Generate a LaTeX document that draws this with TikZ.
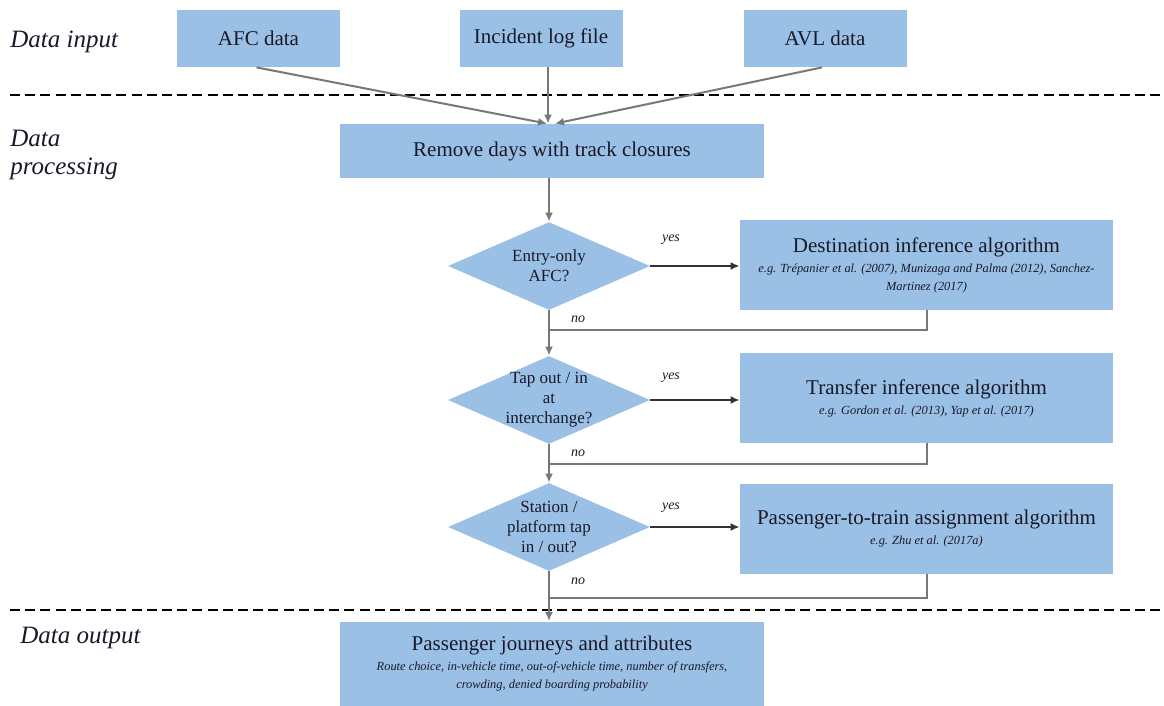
\documentclass[tikz,border=0pt]{standalone}
\usepackage{fontspec}
\setmainfont{Liberation Serif}
\usetikzlibrary{shapes.geometric,arrows.meta,calc}
\definecolor{boxblue}{RGB}{155,192,230}
\definecolor{txt}{RGB}{25,25,40}
\definecolor{greyline}{RGB}{120,120,120}
\definecolor{darkline}{RGB}{50,50,50}
\tikzset{
  box/.style={fill=boxblue, draw=none, inner sep=0pt, align=center, text=txt, font=\fontsize{10.5}{12}\selectfont},
  dia/.style={shape=diamond, fill=boxblue, draw=none, inner sep=0pt, minimum width=101pt, minimum height=44pt},
  dtext/.style={align=center, text=txt, font=\fontsize{8.5}{10}\selectfont, inner sep=0pt},
  sect/.style={anchor=west, text=txt, font=\fontsize{12.5}{15}\selectfont\itshape, align=left, inner sep=0pt},
  lab/.style={text=txt, font=\fontsize{7}{8}\selectfont\itshape, inner sep=0pt},
  garrow/.style={draw=greyline, line width=1pt, -{Latex[length=4.5pt,width=4pt]}},
  gline/.style={draw=greyline, line width=1pt},
  yarrow/.style={draw=darkline, line width=1.1pt, -{Latex[length=4.5pt,width=4pt]}},
  sep/.style={draw=black, line width=1.3pt, dash pattern=on 5pt off 2.6pt},
}
\newcommand{\refsize}{\fontsize{6.2}{7.5}\selectfont\itshape}
\begin{document}
\begin{tikzpicture}[x=0.5pt,y=-0.5pt]
\useasboundingbox (0,0) rectangle (1164,706);
% section labels
\node[sect] (lin) at (10,42) {Data input};
\node[sect] (lproc) at (10,155) {Data\\[-1pt]processing};
\node[sect] (lout) at (20,638) {Data output};
% separators
\coordinate (s1a) at (10,95); \coordinate (s1b) at (1164,95);
\coordinate (s2a) at (10,610); \coordinate (s2b) at (1164,610);
\draw[sep] (s1a) -- (s1b);
\draw[sep] (s2a) -- (s2b);
% input boxes
\node[box, minimum width=81.5pt, minimum height=28.5pt] (afc) at (258.5,38.5) {AFC data};
\node[box, minimum width=81.5pt, minimum height=28.5pt] (inc) at (541,38.5) {Incident log file};
\node[box, minimum width=81.5pt, minimum height=28.5pt] (avl) at (825,38.5) {AVL data};
% remove box
\node[box, minimum width=212pt, minimum height=27pt] (rem) at (552,151) {Remove days with track closures};
\draw[garrow] ($(afc.south)+(-2,0)$) -- ($(rem.north)+(-5,0)$);
\draw[garrow] ($(inc.south)+(7,0)$) -- ($(rem.north)+(-4,0)$);
\draw[garrow] ($(avl.south)+(-3,0)$) -- ($(rem.north)+(3,0)$);
% diamonds
\node[dia] (d1) at (549,266) {};
\node[dtext] (t1) at (d1) {Entry-only\\AFC?};
\node[dia] (d2) at (549,400) {};
\node[dtext] (t2) at (d2) {Tap out / in\\at\\interchange?};
\node[dia] (d3) at (549,527) {};
\node[dtext] (t3) at (d3) {Station /\\platform tap\\in / out?};
% algorithm boxes
\node[box, minimum width=186.5pt, minimum height=45pt] (b1) at (926.5,265)
  {Destination inference algorithm\\[-2pt]\refsize e.g. Trépanier et al. (2007), Munizaga and Palma (2012), Sanchez-\\[-3pt]\refsize Martinez (2017)};
\node[box, minimum width=186.5pt, minimum height=45pt] (b2) at (926.5,398)
  {Transfer inference algorithm\\[-2pt]\refsize e.g. Gordon et al. (2013), Yap et al. (2017)};
\node[box, minimum width=186.5pt, minimum height=45pt] (b3) at (926.5,529)
  {Passenger-to-train assignment algorithm\\[-2pt]\refsize e.g. Zhu et al. (2017a)};
% output box
\node[box, minimum width=212pt, minimum height=42pt] (out) at (552,663.5)
  {Passenger journeys and attributes\\[-2pt]\refsize Route choice, in-vehicle time, out-of-vehicle time, number of transfers,\\[-3pt]\refsize crowding, denied boarding probability};
% flow
\draw[garrow] (rem.south -| d1.north) -- (d1.north);
\draw[yarrow] (d1.east) -- (d1.east -| b1.west);
\draw[yarrow] (d2.east) -- (d2.east -| b2.west);
\draw[yarrow] (d3.east) -- (d3.east -| b3.west);
\draw[garrow] (d1.south) -- (d2.north);
\draw[garrow] (d2.south) -- (d3.north);
\draw[garrow] (d3.south) -- (out.north -| d3.south);
\coordinate (r1) at (549,330);
\coordinate (r2) at (549,464);
\coordinate (r3) at (549,598);
\draw[gline] (b1.south) |- (r1);
\draw[gline] (b2.south) |- (r2);
\draw[gline] (b3.south) |- (r3);
% labels
\node[lab] (y1) at (671,240) {yes};
\node[lab] (y2) at (671,378) {yes};
\node[lab] (y3) at (671,508) {yes};
\node[lab] (n1) at (578,319) {no};
\node[lab] (n2) at (578,453) {no};
\node[lab] (n3) at (578,581) {no};
\end{tikzpicture}
\end{document}
